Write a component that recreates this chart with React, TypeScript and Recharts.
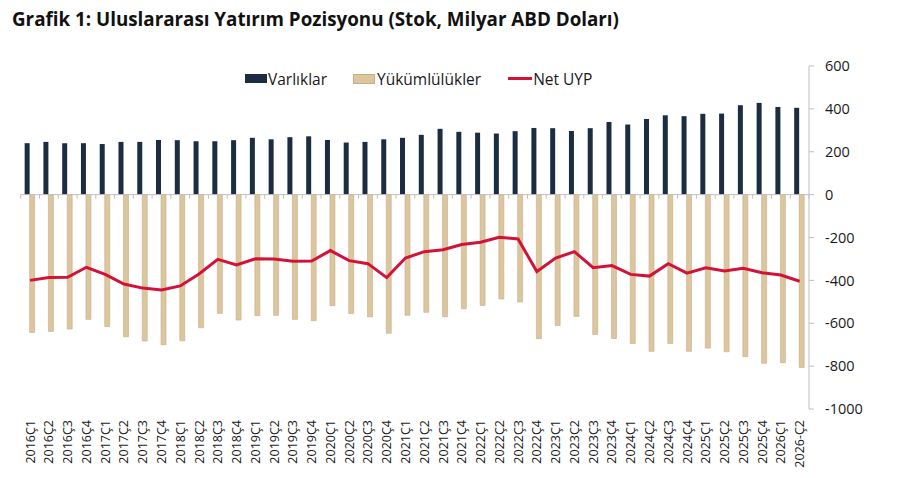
import React from 'react';
import { ComposedChart, Bar, Line, XAxis, YAxis, ReferenceLine, Legend } from 'recharts';

const categories = [
  '2016Ç1', '2016Ç2', '2016Ç3', '2016Ç4',
  '2017Ç1', '2017Ç2', '2017Ç3', '2017Ç4',
  '2018Ç1', '2018Ç2', '2018Ç3', '2018Ç4',
  '2019Ç1', '2019Ç2', '2019Ç3', '2019Ç4',
  '2020Ç1', '2020Ç2', '2020Ç3', '2020Ç4',
  '2021Ç1', '2021Ç2', '2021Ç3', '2021Ç4',
  '2022Ç1', '2022Ç2', '2022Ç3', '2022Ç4',
  '2023Ç1', '2023Ç2', '2023Ç3', '2023Ç4',
  '2024Ç1', '2024Ç2', '2024Ç3', '2024Ç4',
  '2025Ç1', '2025Ç2', '2025Ç3', '2025Ç4',
  '2026Ç1', '2026-Ç2',
];

const assets = [
  240, 246, 240, 240, 236, 246, 246, 255, 254, 249,
  249, 254, 265, 258, 268, 272, 255, 243, 246, 258,
  265, 279, 307, 293, 289, 285, 296, 311, 310, 297,
  310, 339, 327, 353, 370, 366, 377, 378, 417, 428,
  409, 405,
];

const liabilities = [
  -643, -638, -627, -582, -615, -663, -683, -700, -682, -621,
  -554, -585, -565, -563, -582, -588, -518, -555, -570, -647,
  -563, -549, -570, -532, -517, -487, -501, -672, -610, -568,
  -652, -671, -694, -731, -694, -731, -716, -733, -756, -787,
  -784, -806,
];

const netPosition = [
  -400, -387, -386, -339, -372, -417, -436, -445, -426, -370,
  -302, -328, -299, -300, -311, -310, -261, -308, -322, -387,
  -296, -266, -257, -233, -222, -199, -207, -359, -296, -266,
  -341, -331, -372, -380, -322, -366, -341, -356, -344, -364,
  -375, -404,
];

const yTicks = [-1000, -800, -600, -400, -200, 0, 200, 400, 600];

const seriesOrder = ['assets', 'liabilities', 'net'];

const NAVY = '#1c2d42';
const TAN = '#dcc6a0';
const TAN_EDGE = '#c8ad82';
const RED = '#d31238';
const AXIS = '#bfbfbf';
const FONT = '"Open Sans", "Noto Sans", sans-serif';

const data = categories.map((cat, i) => ({
  cat,
  assets: assets[i],
  liabilities: liabilities[i],
  net: netPosition[i],
}));

const XTick = (props: any) => {
  const { x, y, payload } = props;
  return (
    <text
      x={x}
      y={y}
      transform={`rotate(-90, ${x}, ${y})`}
      textAnchor="end"
      dy="0.36em"
      fontSize={12.5}
      fill="#1a1a1a"
      fontFamily={FONT}
    >
      {payload.value}
    </text>
  );
};

const LegendContent = (props: any) => {
  const payload = [...(props.payload || [])].sort(
    (a: any, b: any) => seriesOrder.indexOf(a.dataKey) - seriesOrder.indexOf(b.dataKey)
  );
  return (
    <div style={{ display: 'flex', alignItems: 'center', fontFamily: FONT, fontSize: 15.5, color: '#1a1a1a', height: 20 }}>
      {payload.map((entry: any, idx: number) => {
        const key = entry.dataKey;
        let swatch;
        if (key === 'net') {
          swatch = <span style={{ display: 'inline-block', width: 24, height: 3, background: RED, marginRight: 1 }} />;
        } else if (key === 'liabilities') {
          swatch = <span style={{ display: 'inline-block', width: 20, height: 8, background: TAN, border: `1px solid ${TAN_EDGE}`, marginRight: 2 }} />;
        } else {
          swatch = <span style={{ display: 'inline-block', width: 22, height: 9, background: NAVY, marginRight: 1 }} />;
        }
        return (
          <span key={idx} style={{ display: 'inline-flex', alignItems: 'center', marginRight: idx === 0 ? 26 : 27, whiteSpace: 'nowrap' }}>
            {swatch}
            <span>{entry.value}</span>
          </span>
        );
      })}
    </div>
  );
};

export default function App() {
  return (
    <div style={{ position: 'absolute', left: 0, top: 0, width: 897, height: 478, background: '#fff' }}>
      <div
        style={{
          position: 'absolute',
          left: 12,
          top: 6,
          fontFamily: FONT,
          fontWeight: 700,
          fontSize: 18.8,
          color: '#111',
          whiteSpace: 'nowrap',
          lineHeight: 'normal',
        }}
      >
        Grafik 1: Uluslararası Yatırım Pozisyonu (Stok, Milyar ABD Doları)
      </div>
      <ComposedChart
        width={897}
        height={478}
        data={data}
        margin={{ top: 66, right: 28, left: 20.7, bottom: 9 }}
        barCategoryGap="21%"
        barGap={0}
      >
        <XAxis
          dataKey="cat"
          interval={0}
          axisLine={false}
          tickLine={false}
          tickSize={0}
          tickMargin={11}
          height={60}
          tick={<XTick />}
        />
        <YAxis
          orientation="right"
          domain={[-1000, 600]}
          ticks={yTicks}
          interval={0}
          allowDataOverflow
          width={60}
          axisLine={{ stroke: AXIS, strokeWidth: 1 }}
          tickLine={{ stroke: AXIS, strokeWidth: 1 }}
          tickSize={5}
          tickMargin={11}
          tick={{ fontSize: 14.5, fill: '#1a1a1a', fontFamily: FONT, textAnchor: 'start' }}
        />
        <Legend
          layout="horizontal"
          verticalAlign="middle"
          align="center"
          wrapperStyle={{ top: 68.5, left: 245, width: 420 }}
          content={<LegendContent />}
        />
        <Bar dataKey="assets" name="Varlıklar" fill={NAVY} isAnimationActive={false} />
        <Bar dataKey="liabilities" name="Yükümlülükler" fill={TAN} stroke={TAN_EDGE} strokeWidth={0.6} isAnimationActive={false} />
        <ReferenceLine y={0} stroke={AXIS} strokeWidth={1} />
        {categories.map((c) => (
          <ReferenceLine
            key={`t-${c}`}
            segment={[{ x: c, y: 0 }, { x: c, y: -19 }]}
            position="start"
            stroke={AXIS}
            strokeWidth={1}
          />
        ))}
        <ReferenceLine
          segment={[{ x: categories[categories.length - 1], y: 0 }, { x: categories[categories.length - 1], y: -19 }]}
          position="end"
          stroke={AXIS}
          strokeWidth={1}
        />
        <Line
          type="linear"
          dataKey="net"
          name="Net UYP"
          stroke={RED}
          strokeWidth={3}
          dot={false}
          activeDot={false}
          isAnimationActive={false}
        />
      </ComposedChart>
    </div>
  );
}
